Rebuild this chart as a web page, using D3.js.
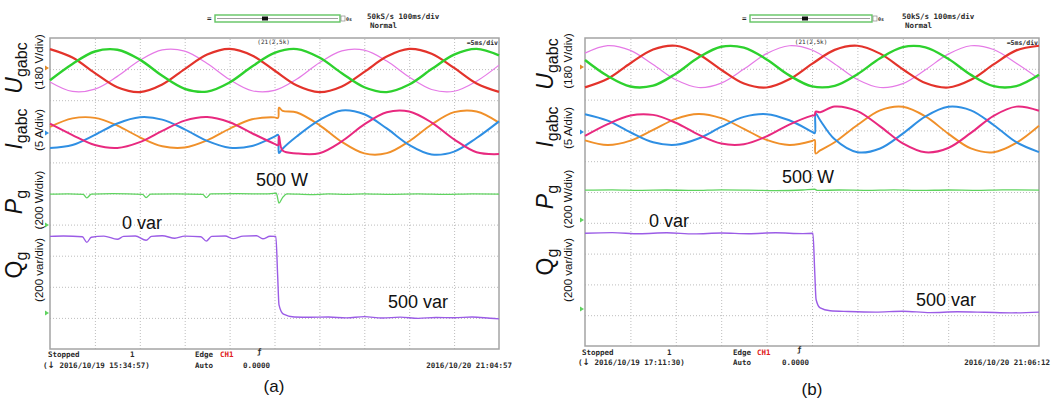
<!DOCTYPE html>
<html>
<head>
<meta charset="utf-8">
<script src="https://cdn.jsdelivr.net/npm/d3@7"></script>
<style>
body { margin: 0; background: #fff; }
svg text { font-family: "Liberation Sans", Arial, sans-serif; }
.scope { font-family: "DejaVu Sans Mono", "Liberation Mono", monospace; font-size: 7.5px; font-weight: bold; fill: #2a2a2a; }
.grid line { stroke: #bdbdbd; stroke-dasharray: 1,2; }
.grid path { display: none; }
</style>
</head>
<body>
<div id="chart"></div>
<script>
// time base: 5 ms/div, 10 div -> 0..50 ms
var tU = [0,2.5,5,7.5,10,12.5,15,17.5,20,22.5,25,27.5,30,32.5,35,37.5,40,42.5,45,47.5,50];

// grid voltages (V)
var uRedA   = [124,75,-15,-97,-125,-81,8,92,125,87,0,-87,-125,-92,-8,81,125,97,15,-75,-124];
var uGreenA = [-56,38,110,120,63,-31,-106,-122,-69,23,102,124,75,-16,-97,-125,-81,8,92,125,87];
var uPinkA  = [-66,-121,-108,-34,59,119,112,41,-52,-117,-115,-49,45,114,118,55,-38,-110,-120,-62,31];
var uRedB   = [-121,-71,20,100,122,73,-18,-99,-122,-74,16,98,122,76,-15,-96,-122,-77,13,95,122];
var uGreenB = [39,-55,-116,-111,-41,53,116,111,42,-51,-115,-112,-44,49,114,113,46,-48,-114,-114,-48];
var uPinkB  = [79,123,95,12,-77,-122,-96,-14,76,122,97,16,-75,-122,-99,-18,73,122,100,20,-71];

// grid currents (A), with the step around 25 ms
var tIA = [0,2.5,5,7.5,10,12.5,15,17.5,20,22.5,25,25.4,25.5,25.9,27.5,30,32.5,35,37.5,40,42.5,45,47.5,50];
var iOrangeA  = [0.90,2.27,2.36,1.12,-0.76,-2.20,-2.41,-1.25,0.61,2.13,2.44,2.36,4.0,3.5,3.22,1.20,-1.50,-3.36,-3.32,-1.40,1.30,3.27,3.39,1.60];
var iBlueA    = [-2.48,-1.99,-0.37,1.46,2.46,2.08,0.52,-1.33,-2.43,-2.16,-0.67,-0.37,-3.3,-2.6,-0.6,2.0,3.56,2.94,0.66,-1.99,-3.52,-3.06,-0.88,1.80];
var iMagentaA = [1.42,-0.41,-2.01,-2.48,-1.54,0.26,1.92,2.49,1.66,-0.11,-1.82,-2.02,-0.6,-2.9,-3.36,-3.32,-1.41,1.30,3.27,3.39,1.61,-1.09,-3.17,-3.46];

var tIB = [0,2.5,5,7.5,10,12.5,15,17.5,20,22.5,25,25.3,25.4,25.9,27.5,30,32.5,35,37.5,40,42.5,45,47.5,50];
var iOrangeB  = [-1.76,-2.52,-1.81,-0.06,1.73,2.52,1.84,0.10,-1.70,-2.52,-1.87,-1.70,-3.9,-3.4,-2.07,0.73,3.11,3.69,2.12,-0.67,-3.08,-3.69,-2.17,0.61];
var iBlueB    = [2.48,1.43,-0.45,-2.07,-2.48,-1.46,0.41,2.04,2.49,1.49,-0.37,-0.60,2.6,1.5,-1.6,-3.69,-3.08,-0.67,2.12,3.69,3.11,0.73,-2.07,-3.67];
var iMagentaB = [-1.05,0.87,2.28,2.37,1.09,-0.83,-2.27,-2.39,-1.12,0.80,2.25,2.34,2.9,2.8,3.72,2.97,0.50,-2.27,-3.71,-3.01,-0.56,2.22,3.71,3.04];

// active power (W)
var tPA = [0,2,3.7,4.1,4.6,7,10.3,10.7,11.2,14,17.0,17.4,17.9,21,24,25.2,25.5,25.9,26.4,29,31,33,35,38,41,44,47,50];
var pA  = [500,502,499,476,500,503,499,478,500,502,499,477,501,503,501,506,442,478,502,497,501,498,502,499,501,498,501,500];
var tPB = [0,3,6,9,12,15,18,21,24,25.3,25.6,28,31,34,37,40,43,46,50];
var pB  = [500,502,499,501,498,502,500,497,501,506,498,501,499,502,498,501,499,502,500];

// reactive power (var), drawn downward
var tQA = [0,1.5,3.6,4.1,4.6,6,7.5,8.2,9.5,10.7,11.3,12.5,13.9,15,16.8,17.4,18,19.5,20.4,21.5,23,23.7,24.5,25.15,25.35,25.5,26.0,27.2,29,31,33,35,37,39,41,43,45,47,49,50];
var qA  = [0,-3,2,38,5,-2,18,0,-3,25,0,-4,12,-2,2,30,0,-3,14,-2,-4,15,-1,0,250,440,500,518,520,518,524,516,525,519,527,521,523,518,526,530];
var tQB = [0,3,6,9,12,15,18,21,24,25.1,25.3,25.45,25.9,27,29,32,35,38,41,44,47,50];
var qB  = [0,-4,3,-3,4,-2,3,-3,2,0,250,430,485,503,508,512,506,515,510,513,517,512];

var uColors = ['#e3332b', '#2ed12e', '#e57ae6'];
var iColors = ['#f0902a', '#2f8fe3', '#e8297f'];
var pColor = '#5fd35f';
var qColor = '#9b5ce6';

var svgWidth = 1055, svgHeight = 400;

var panels = [
    {
        left: 50, top: 38, width: 449, height: 311,
        uOff: 1.045, iOff: 3.04, pOff: 7.52, qOff: 6.38,
        u: [uRedA, uGreenA, uPinkA], tI: tIA, i: [iOrangeA, iBlueA, iMagentaA],
        tP: tPA, p: pA, tQ: tQA, q: qA,
        labelX: 22, unitX: 43,
        labelY: [68, 129, 202, 265], unitY: [62, 130, 200, 270],
        marks: [[68, '#e08a2a'], [133, '#2f8fe3'], [225, '#5fd35f'], [313, '#5fd35f']],
        notes: [['500 W', 282, 186], ['0 var', 142, 229], ['500 var', 418, 308]],
        bar: [215, 340, 262], rate: 367,
        foot: { y1: 357, y2: 368, stopped: 48, one: 130, when: '2016/10/19 15:34:57)', whenX: 43, edge: 195, ch: 220, zero: 243, trig: 257, date: '2016/10/20 21:04:57', dateX: 512 },
        tag: ['(a)', 274, 392]
    },
    {
        left: 585, top: 38, width: 454, height: 308,
        uOff: 0.93, iOff: 2.97, pOff: 7.44, qOff: 6.34,
        u: [uRedB, uGreenB, uPinkB], tI: tIB, i: [iOrangeB, iBlueB, iMagentaB],
        tP: tPB, p: pB, tQ: tQB, q: qB,
        labelX: 553, unitX: 572,
        labelY: [64, 127, 197, 262], unitY: [61, 128, 199, 270],
        marks: [[67, '#e08a2a'], [132, '#2f8fe3'], [220, '#5fd35f'], [309, '#5fd35f']],
        notes: [['500 W', 808, 183], ['0 var', 669, 227], ['500 var', 946, 306]],
        bar: [750, 872, 802], rate: 902,
        foot: { y1: 355, y2: 365, stopped: 582, one: 667, when: '2016/10/19 17:11:30)', whenX: 578, edge: 733, ch: 757, zero: 782, trig: 797, date: '2016/10/20 21:06:12', dateX: 1050 },
        tag: ['(b)', 812, 395]
    }
];

var labelDefs = [
    { main: 'U', sub: 'gabc', italic: true, unit: '(180 V/div)' },
    { main: 'I', sub: 'gabc', italic: true, unit: '(5 A/div)' },
    { main: 'P', sub: 'g', italic: true, unit: '(200 W/div)' },
    { main: 'Q', sub: 'g', italic: false, unit: '(200 var/div)' }
];

var svg = d3.select('#chart').append('svg')
    .attr('width', svgWidth)
    .attr('height', svgHeight);

function drawTrace(g, ts, vs, x, y, color, width, curve) {
    var line = d3.line()
        .x((d, k) => x(ts[k]))
        .y(d => y(d))
        .curve(curve);
    g.append('path')
        .datum(vs)
        .attr('d', line)
        .attr('fill', 'none')
        .attr('stroke', color)
        .attr('stroke-width', width)
        .attr('stroke-linejoin', 'round');
}

panels.forEach(pn => {
    var x = d3.scaleLinear().domain([0, 50]).range([pn.left, pn.left + pn.width]);
    var divY = d3.scaleLinear().domain([0, 10]).range([pn.top, pn.top + pn.height]);
    var divX = d3.scaleLinear().domain([0, 10]).range([pn.left, pn.left + pn.width]);

    // channel scales: value -> pixel, each with its own zero level and units per div
    var yU = d3.scaleLinear().domain([0, 180]).range([divY(pn.uOff), divY(pn.uOff - 1)]);
    var yI = d3.scaleLinear().domain([0, 5]).range([divY(pn.iOff), divY(pn.iOff - 1)]);
    var yP = d3.scaleLinear().domain([0, 200]).range([divY(pn.pOff), divY(pn.pOff - 1)]);
    var yQ = d3.scaleLinear().domain([0, 200]).range([divY(pn.qOff), divY(pn.qOff + 1)]);

    var g = svg.append('g');

    // dotted graticule
    g.append('g').attr('class', 'grid')
        .attr('transform', `translate(0, ${pn.top + pn.height})`)
        .call(d3.axisBottom(divX).tickValues(d3.range(1, 10)).tickSize(-pn.height).tickFormat(''));
    g.append('g').attr('class', 'grid')
        .attr('transform', `translate(${pn.left}, 0)`)
        .call(d3.axisLeft(divY).tickValues(d3.range(1, 10)).tickSize(-pn.width).tickFormat(''));

    g.append('rect')
        .attr('x', pn.left).attr('y', pn.top)
        .attr('width', pn.width).attr('height', pn.height)
        .attr('fill', 'none').attr('stroke', '#a4a4a4').attr('stroke-width', 1.5);

    var smooth = d3.curveCatmullRom.alpha(0.5);
    drawTrace(g, tU, pn.u[2], x, yU, uColors[2], 1.2, smooth);
    drawTrace(g, tU, pn.u[0], x, yU, uColors[0], 2.2, smooth);
    drawTrace(g, tU, pn.u[1], x, yU, uColors[1], 2.4, smooth);

    drawTrace(g, pn.tI, pn.i[0], x, yI, iColors[0], 1.9, smooth);
    drawTrace(g, pn.tI, pn.i[1], x, yI, iColors[1], 2.0, smooth);
    drawTrace(g, pn.tI, pn.i[2], x, yI, iColors[2], 2.0, smooth);

    drawTrace(g, pn.tP, pn.p, x, yP, pColor, 1.3, d3.curveMonotoneX);
    drawTrace(g, pn.tQ, pn.q, x, yQ, qColor, 1.4, d3.curveMonotoneX);

    // channel markers at the left edge
    pn.marks.forEach(m => {
        g.append('path')
            .attr('d', `M${pn.left - 5},${m[0] - 2.5} L${pn.left - 1},${m[0]} L${pn.left - 5},${m[0] + 2.5} Z`)
            .attr('fill', m[1]);
    });

    // axis labels (rotated)
    labelDefs.forEach((ld, k) => {
        var t = g.append('text')
            .attr('transform', `translate(${pn.labelX}, ${pn.labelY[k]}) rotate(-90)`)
            .attr('text-anchor', 'middle')
            .attr('fill', '#111');
        t.append('tspan').text(ld.main)
            .style('font-size', '23px')
            .style('font-style', ld.italic ? 'italic' : 'normal');
        t.append('tspan').text(ld.sub)
            .attr('dy', 5)
            .style('font-size', '16px');
        g.append('text')
            .attr('transform', `translate(${pn.unitX}, ${pn.unitY[k]}) rotate(-90)`)
            .attr('text-anchor', 'middle')
            .attr('fill', '#111')
            .style('font-size', '11.5px')
            .text(ld.unit);
    });

    pn.notes.forEach(n => {
        g.append('text')
            .attr('x', n[1]).attr('y', n[2])
            .attr('text-anchor', 'middle')
            .attr('fill', '#111')
            .style('font-size', '18px')
            .text(n[0]);
    });

    // header: record-length bar and sample rate
    g.append('text').attr('class', 'scope').attr('x', pn.bar[0] - 8).attr('y', 21).text('=');
    g.append('rect')
        .attr('x', pn.bar[0]).attr('y', 15)
        .attr('width', pn.bar[1] - pn.bar[0]).attr('height', 7)
        .attr('fill', '#fff').attr('stroke', '#62c462').attr('stroke-width', 1.4);
    g.append('line')
        .attr('x1', pn.bar[0] + 2).attr('x2', pn.bar[1] - 2)
        .attr('y1', 18.5).attr('y2', 18.5)
        .attr('stroke', '#888').attr('stroke-width', 0.8);
    g.append('rect')
        .attr('x', pn.bar[2]).attr('y', 16.5)
        .attr('width', 6).attr('height', 4)
        .attr('fill', '#111');
    g.append('rect')
        .attr('x', pn.bar[1] + 1).attr('y', 16)
        .attr('width', 4).attr('height', 5)
        .attr('fill', 'none').attr('stroke', '#888').attr('stroke-width', 0.7);
    g.append('text').attr('class', 'scope').attr('x', pn.bar[1] + 6).attr('y', 21)
        .style('font-size', '5px').text('0s');
    g.append('text').attr('class', 'scope').attr('x', pn.rate).attr('y', 19).text('50kS/s 100ms/div');
    g.append('text').attr('class', 'scope').attr('x', pn.rate + 3).attr('y', 28).text('Normal');

    g.append('text').attr('class', 'scope')
        .attr('x', x(24.9)).attr('y', pn.top + 6)
        .attr('text-anchor', 'middle')
        .style('font-size', '6px').style('font-weight', 'normal')
        .text('(21(2,5k)');
    g.append('text').attr('class', 'scope')
        .attr('x', pn.left + pn.width - 1).attr('y', pn.top + 7)
        .attr('text-anchor', 'end')
        .style('font-size', '6.5px')
        .text('=5ms/div');

    // footer status lines
    var f = pn.foot;
    g.append('text').attr('class', 'scope').attr('x', f.stopped).attr('y', f.y1).text('Stopped');
    g.append('text').attr('class', 'scope').attr('x', f.one).attr('y', f.y1).text('1');
    var when = g.append('text').attr('class', 'scope').attr('x', f.whenX).attr('y', f.y2);
    when.append('tspan').text('(');
    when.append('tspan').style('font-size', '9px').style('font-family', '"DejaVu Sans", sans-serif').text('\u2193');
    when.append('tspan').text(' ' + f.when);
    g.append('text').attr('class', 'scope').attr('x', f.edge).attr('y', f.y1).text('Edge');
    g.append('text').attr('class', 'scope').attr('x', f.ch).attr('y', f.y1).style('fill', '#e02020').text('CH1');
    g.append('text').attr('class', 'scope').attr('x', f.edge).attr('y', f.y2).text('Auto');
    g.append('text').attr('class', 'scope').attr('x', f.trig).attr('y', f.y1 - 3).text('\u0192');
    g.append('text').attr('class', 'scope').attr('x', f.zero).attr('y', f.y2).text('0.0000');
    g.append('text').attr('class', 'scope').attr('x', f.dateX).attr('y', f.y2)
        .attr('text-anchor', 'end').text(f.date);

    g.append('text')
        .attr('x', pn.tag[1]).attr('y', pn.tag[2])
        .attr('text-anchor', 'middle')
        .attr('fill', '#111')
        .style('font-size', '17px')
        .text(pn.tag[0]);
});
</script>
</body>
</html>
